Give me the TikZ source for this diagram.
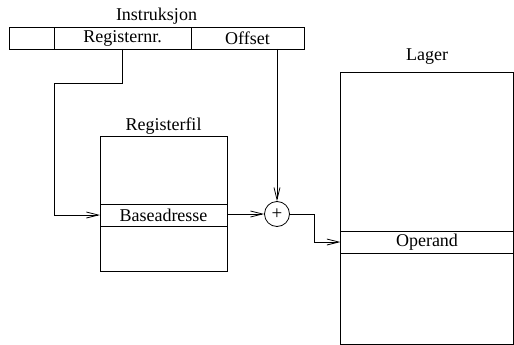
\documentclass[tikz,border=0pt]{standalone}
\usepackage{fontspec}
\setmainfont{Liberation Serif}
\usetikzlibrary{arrows.meta}
\tikzset{
	cell/.style={draw,inner sep=0pt,outer sep=0pt,minimum height=22pt},
	caption/.style={inner sep=0pt},
	>={Straight Barb[length=12pt,width=6pt]}
}
\begin{document}
\begin{tikzpicture}[x=1pt,y=-1pt,line width=0.8pt,font=\rmfamily\fontsize{18}{20}\selectfont]
			\useasboundingbox (0,0) rectangle (514,345);
			\node (instr) [caption] at (156.5,16) {Instruksjon};
			\node (felt) [cell,minimum width=45.5pt] at (31.75,38) {};
			\node (regnr) [cell,minimum width=137pt] at (122.5,38) {Registernr.};
			\node (offset) [cell,minimum width=113pt] at (247.5,38) {Offset};
			\node (regfil) [caption] at (163.5,126) {Registerfil};
			\node (regtop) [cell,minimum width=127pt,minimum height=68pt] at (163.5,170) {};
			\node (regbase) [cell,minimum width=127pt] at (163.5,215) {Baseadresse};
			\node (regbot) [cell,minimum width=127pt,minimum height=45pt] at (163.5,248.5) {};
			\node (plus) [draw,circle,minimum size=25pt,inner sep=0pt,font=\rmfamily\fontsize{19}{20}\selectfont] at (277,214) {+};
			\node (lager) [caption] at (427,57) {Lager};
			\node (lagtop) [cell,minimum width=173pt,minimum height=159pt] at (427,151.5) {};
			\node (operand) [cell,minimum width=173pt] at (427,242) {Operand};
			\node (lagbot) [cell,minimum width=173pt,minimum height=91pt] at (427,298.5) {};
			\coordinate (bendA) at (54,83);
			\coordinate (bendB) at (314,214);
			\draw [->] (regnr.south) |- (bendA) |- (regbase.west);
			\draw [->] (plus |- offset.south) -- (plus);
			\draw [->] (regbase.east |- plus) -- (plus);
			\draw [->] (plus) -- (bendB) |- (operand.west);
		\end{tikzpicture}
\end{document}
